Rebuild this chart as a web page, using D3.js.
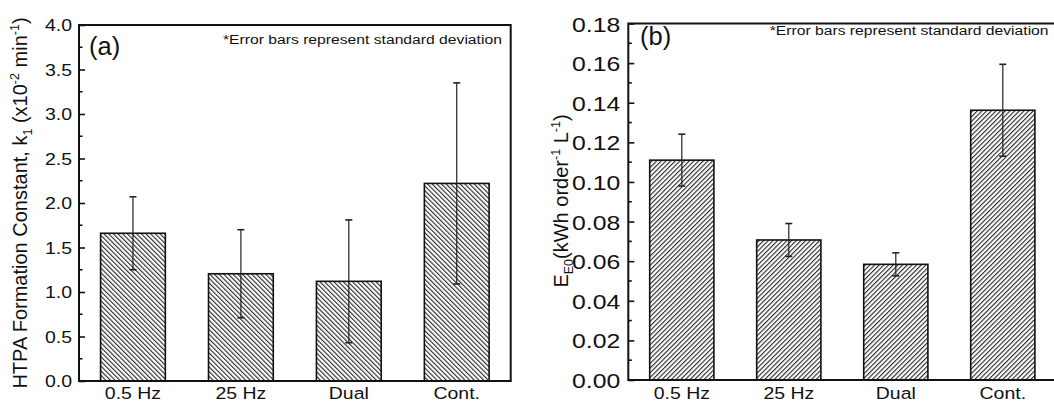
<!DOCTYPE html>
<html>
<head>
<meta charset="utf-8">
<script src="https://cdn.jsdelivr.net/npm/d3@7"></script>
<style>
  body { margin: 0; background: #fff; }
  svg { display: block; font-family: "Liberation Sans", Arial, sans-serif; }
</style>
</head>
<body>
<svg id="chart" width="1054" height="403"></svg>
<script>
// data
var categories = ["0.5 Hz", "25 Hz", "Dual", "Cont."];
var k1Mean = [1.66, 1.205, 1.12, 2.22];
var k1Sd = [0.41, 0.495, 0.69, 1.13];
var eeoMean = [0.111, 0.0707, 0.0584, 0.1362];
var eeoSd = [0.0131, 0.0083, 0.0058, 0.0232];
var k1Ticks = [0, 0.5, 1.0, 1.5, 2.0, 2.5, 3.0, 3.5, 4.0];
var eeoTicks = [0, 0.02, 0.04, 0.06, 0.08, 0.10, 0.12, 0.14, 0.16, 0.18];

// the source figure is a bit wider than tall
var SX = 1.18;

var svg = d3.select("#chart");

// hatch patterns
var defs = svg.append("defs");
function hatch(id, angle) {
  var p = defs.append("pattern").attr("id", id)
    .attr("patternUnits", "userSpaceOnUse")
    .attr("width", 3.3).attr("height", 10)
    .attr("patternTransform", "rotate(" + angle + ")");
  p.append("rect").attr("width", 3.3).attr("height", 10).style("fill", "#fff");
  p.append("line").attr("x1", 0.6).attr("y1", 0).attr("x2", 0.6).attr("y2", 10)
    .style("stroke", "#111").style("stroke-width", 1);
}
hatch("hatchA", -45);
hatch("hatchB", 45);

function stretched(g, x, y, txt, size) {
  return g.append("text").attr("transform", "translate(" + x + "," + y + ") scale(" + SX + ",1)")
    .text(txt).style("font-size", size + "px").style("fill", "#111");
}

function panel(opt) {
  var g = svg.append("g");
  var x = d3.scaleBand().domain(categories)
    .range([opt.left, opt.right]).paddingInner(0.4).paddingOuter(0.2);
  var y = d3.scaleLinear().domain(opt.domain).range([opt.bottom, opt.top]);

  var rows = categories.map(function (c, i) {
    return { c: c, m: opt.mean[i], s: opt.sd[i] };
  });

  // bars
  g.selectAll(".bar").data(rows).enter().append("rect")
    .attr("x", function (d) { return x(d.c); })
    .attr("width", x.bandwidth())
    .attr("y", function (d) { return y(d.m); })
    .attr("height", function (d) { return y(0) - y(d.m); })
    .style("fill", "url(#" + opt.pattern + ")")
    .style("stroke", "#111").style("stroke-width", 1.6);

  // error bars
  var cx = function (d) { return x(d.c) + x.bandwidth() / 2; };
  g.selectAll(".err").data(rows).enter().append("line")
    .attr("x1", cx).attr("x2", cx)
    .attr("y1", function (d) { return y(d.m - d.s); })
    .attr("y2", function (d) { return y(d.m + d.s); })
    .style("stroke", "#222").style("stroke-width", 1.2);
  [1, -1].forEach(function (k) {
    g.selectAll(".cap" + k).data(rows).enter().append("line")
      .attr("x1", function (d) { return cx(d) - 3.5; })
      .attr("x2", function (d) { return cx(d) + 3.5; })
      .attr("y1", function (d) { return y(d.m + k * d.s); })
      .attr("y2", function (d) { return y(d.m + k * d.s); })
      .style("stroke", "#222").style("stroke-width", 1.6);
  });

  // frame
  g.append("rect").attr("x", opt.left).attr("y", y(opt.domain[1]))
    .attr("width", opt.right - opt.left).attr("height", y(0) - y(opt.domain[1]))
    .style("fill", "none").style("stroke", "#111").style("stroke-width", 2);

  // y axis: major ticks inward
  var yAxis = d3.axisRight(y).tickValues(opt.ticks).tickSize(6)
    .tickFormat(d3.format(opt.fmt));
  var ya = g.append("g").attr("transform", "translate(" + opt.left + ",0)").call(yAxis);
  ya.select(".domain").remove();
  ya.selectAll(".tick line").style("stroke", "#111").style("stroke-width", 1.6);
  ya.selectAll(".tick text").attr("x", 0).attr("dy", "0.36em")
    .attr("transform", "translate(" + (-opt.labelGap) + ",0) scale(" + SX + ",1)")
    .style("text-anchor", "end").style("font-size", opt.tickFont + "px")
    .style("fill", "#111");

  // minor ticks
  var minor = [];
  for (var i = 0; i < opt.ticks.length - 1; i++) minor.push((opt.ticks[i] + opt.ticks[i + 1]) / 2);
  g.selectAll(".minor").data(minor).enter().append("line")
    .attr("x1", opt.left).attr("x2", opt.left + 3.5)
    .attr("y1", function (d) { return y(d); }).attr("y2", function (d) { return y(d); })
    .style("stroke", "#111").style("stroke-width", 1.6);

  // x labels
  var xAxis = d3.axisBottom(x).tickSize(0);
  var xa = g.append("g").attr("transform", "translate(0," + opt.bottom + ")").call(xAxis);
  xa.select(".domain").remove();
  xa.selectAll(".tick text").attr("y", 0).attr("dy", 0)
    .attr("transform", "translate(0," + (399 - opt.bottom) + ") scale(" + SX + ",1)")
    .style("font-size", "16.5px").style("fill", "#111");

  // panel letter and note
  g.append("text").attr("x", opt.letterX).attr("y", opt.letterY)
    .text(opt.letter).style("font-size", "25.5px").style("fill", "#111");
  stretched(g, opt.noteX, opt.noteY, "*Error bars represent standard deviation", 13.3);

  return { x: x, y: y, g: g };
}

var a = panel({
  left: 79, right: 510.7, top: 25, bottom: 381,
  domain: [0, 4], ticks: k1Ticks, fmt: ".1f",
  mean: k1Mean, sd: k1Sd, pattern: "hatchA",
  labelGap: 7, tickFont: 16.5,
  letter: "(a)", letterX: 89, letterY: 55,
  noteX: 223, noteY: 44
});

var b = panel({
  left: 628.3, right: 1056.3, top: 23.5, bottom: 380,
  domain: [0, 0.18], ticks: eeoTicks, fmt: ".2f",
  mean: eeoMean, sd: eeoSd, pattern: "hatchB",
  labelGap: 8, tickFont: 21,
  letter: "(b)", letterX: 640, letterY: 45,
  noteX: 769.7, noteY: 35
});

// y titles
var ta = svg.append("text").attr("transform", "translate(27,203) rotate(-90)")
  .style("text-anchor", "middle").style("font-size", "20px").style("fill", "#111");
ta.append("tspan").text("HTPA Formation Constant, k");
ta.append("tspan").text("1").attr("dy", 5).style("font-size", "12.5px");
ta.append("tspan").text(" (x10").attr("dy", -5);
ta.append("tspan").text("-2").attr("dy", -8).style("font-size", "12.5px");
ta.append("tspan").text(" min").attr("dy", 8);
ta.append("tspan").text("-1").attr("dy", -8).style("font-size", "12.5px");
ta.append("tspan").text(")").attr("dy", 8);

var tb = svg.append("text").attr("transform", "translate(568,201) rotate(-90)")
  .style("text-anchor", "middle").style("font-size", "20px").style("fill", "#111");
tb.append("tspan").text("E");
tb.append("tspan").text("E0").attr("dy", 5).style("font-size", "12.5px");
tb.append("tspan").text("(kWh order").attr("dy", -5);
tb.append("tspan").text("-1").attr("dy", -8).style("font-size", "12.5px");
tb.append("tspan").text(" L").attr("dy", 8);
tb.append("tspan").text("-1").attr("dy", -8).style("font-size", "12.5px");
tb.append("tspan").text(")").attr("dy", 8);
</script>
</body>
</html>
